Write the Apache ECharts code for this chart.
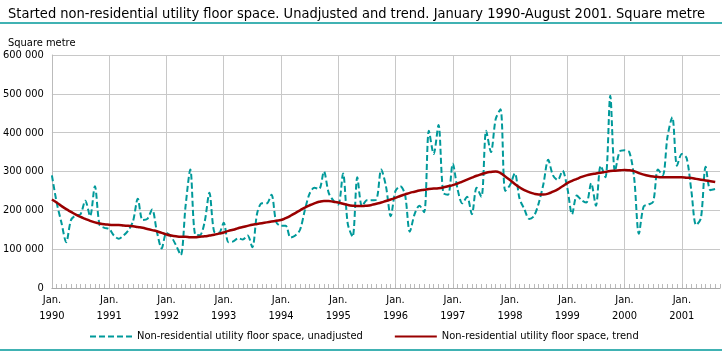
<!DOCTYPE html>
<html>
<head>
<meta charset="utf-8">
<script src="https://cdn.jsdelivr.net/npm/echarts@6/dist/echarts.min.js"></script>
<style>
  html, body { margin: 0; padding: 0; background: #fff; }
  #chart { width: 722px; height: 353px; }
</style>
</head>
<body>
<div id="chart"></div>
<script>
const years = ['1990', '1991', '1992', '1993', '1994', '1995', '1996', '1997', '1998', '1999', '2000', '2001']

// monthly values, Jan 1990 - Aug 2001, square metre (thousands)
const unadjusted = [
  290, 220, 168, 118, 175, 187, 190, 225, 185, 262, 162, 155,
  152, 135, 127, 135, 148, 172, 230, 175, 178, 202, 145, 102,
  142, 132, 110, 85, 210, 305, 138, 136, 170, 245, 145, 142,
  168, 118, 120, 128, 125, 135, 105, 192, 218, 218, 240, 170,
  160, 160, 130, 135, 150, 200, 243, 258, 255, 300, 245, 225,
  215, 295, 165, 132, 285, 210, 226, 226, 228, 305, 262, 185,
  250, 262, 240, 145, 190, 212, 195, 405, 345, 420, 245, 240,
  320, 255, 218, 235, 190, 258, 235, 405, 350, 435, 460, 250,
  265, 295, 230, 203, 178, 185, 218, 268, 330, 290, 278, 302,
  258, 190, 238, 226, 220, 270, 212, 315, 285, 495, 300, 352,
  355, 350, 285, 140, 210, 215, 222, 305, 290, 390, 440, 315,
  345, 335, 250, 162, 180, 312, 252, 255,
]

const trend = [
  228, 220, 211, 203, 196, 189, 183, 178, 173, 169, 166, 164,
  163, 162, 162, 161, 160, 159, 157, 155, 152, 149, 146, 142,
  138, 135, 133, 132, 132, 131, 131, 132, 133, 135, 137, 140,
  143, 147, 150, 154, 157, 160, 163, 165, 167, 169, 171, 173,
  175, 180, 186, 193, 200, 207, 213, 218, 222, 224, 224, 222,
  220, 217, 214, 212, 211, 211, 212, 214, 217, 220, 224, 228,
  232, 237, 241, 245, 248, 251, 253, 255, 256, 257, 259, 262,
  265, 269, 274, 279, 284, 289, 293, 297, 299, 300, 296, 287,
  278, 268, 259, 252, 247, 243, 241, 241, 243, 248, 254, 262,
  270, 276, 281, 286, 290, 293, 295, 297, 299, 301, 302, 303,
  304, 303, 301, 296, 292, 289, 287, 286, 285, 285, 285, 285,
  285, 284, 283, 281, 279, 277, 275, 273,
]

const yTicks = [0, 100000, 200000, 300000, 400000, 500000, 600000]

const font = "'DejaVu Sans Condensed', 'Liberation Sans', sans-serif"
const teal = '#00999a'
const red = '#990000'

// one category per month, axis runs one month past the last value
const categories = []
years.forEach(y => {
  for (let m = 0; m < 12; m++) categories.push(m === 0 ? 'Jan.\n' + y : '')
})
categories.length = unadjusted.length + 1

const fmt = v => String(v).replace(/\B(?=(\d{3})+(?!\d))/g, ' ')

const chart = echarts.init(document.getElementById('chart'))

chart.setOption({
  animation: false,
  title: [
    {
      text: 'Started non-residential utility floor space. Unadjusted and trend. January 1990-August 2001. Square metre',
      left: 3,
      top: 2,
      textStyle: { fontFamily: font, fontSize: 14.5, fontWeight: 'normal', color: '#000' },
    },
    {
      text: 'Square metre',
      left: 3,
      top: 33,
      textStyle: { fontFamily: font, fontSize: 11, fontWeight: 'normal', color: '#000' },
    },
  ],
  graphic: [
    { type: 'line', shape: { x1: 0, y1: 23, x2: 722, y2: 23 }, style: { stroke: teal, lineWidth: 1.5 } },
    { type: 'line', shape: { x1: 0, y1: 350, x2: 722, y2: 350 }, style: { stroke: teal, lineWidth: 1.5 } },
  ],
  grid: {
    left: 51,
    right: 2,
    top: 55,
    bottom: 65,
  },
  legend: {
    left: 84,
    top: 326,
    itemWidth: 42,
    itemHeight: 10,
    itemGap: 31,
    itemStyle: { opacity: 0 },
    textStyle: { fontFamily: font, fontSize: 11, color: '#000' },
    data: [
      'Non-residential utility floor space, unadjusted',
      'Non-residential utility floor space, trend',
    ],
  },
  xAxis: {
    type: 'category',
    data: categories,
    boundaryGap: false,
    axisLine: { lineStyle: { color: '#aaa', width: 1 } },
    axisTick: { interval: 0, inside: true, length: 4, lineStyle: { color: '#bbb' } },
    splitLine: {
      show: true,
      interval: (i) => i % 12 === 0,
      lineStyle: { color: '#c8c8c8', width: 1 },
    },
    axisLabel: {
      interval: (i) => i % 12 === 0,
      fontFamily: font,
      fontSize: 11,
      color: '#000',
      lineHeight: 16,
      margin: 4,
    },
  },
  yAxis: {
    type: 'value',
    min: yTicks[0],
    max: yTicks[yTicks.length - 1],
    interval: 100000,
    axisLine: { show: true, lineStyle: { color: '#bbb' } },
    axisTick: { show: false },
    splitLine: { lineStyle: { color: '#c8c8c8', width: 1 } },
    axisLabel: {
      fontFamily: font,
      fontSize: 11,
      color: '#000',
      margin: 8,
      formatter: fmt,
    },
  },
  series: [
    {
      name: 'Non-residential utility floor space, unadjusted',
      type: 'line',
      data: unadjusted.map(v => v * 1000),
      symbol: 'none',
      smooth: 0.3,
      lineStyle: { color: teal, width: 2, type: [6, 3] },
      itemStyle: { color: teal },
    },
    {
      name: 'Non-residential utility floor space, trend',
      type: 'line',
      data: trend.map(v => v * 1000),
      symbol: 'none',
      smooth: true,
      lineStyle: { color: red, width: 2.5 },
      itemStyle: { color: red },
      z: 3,
    },
  ],
})
</script>
</body>
</html>
